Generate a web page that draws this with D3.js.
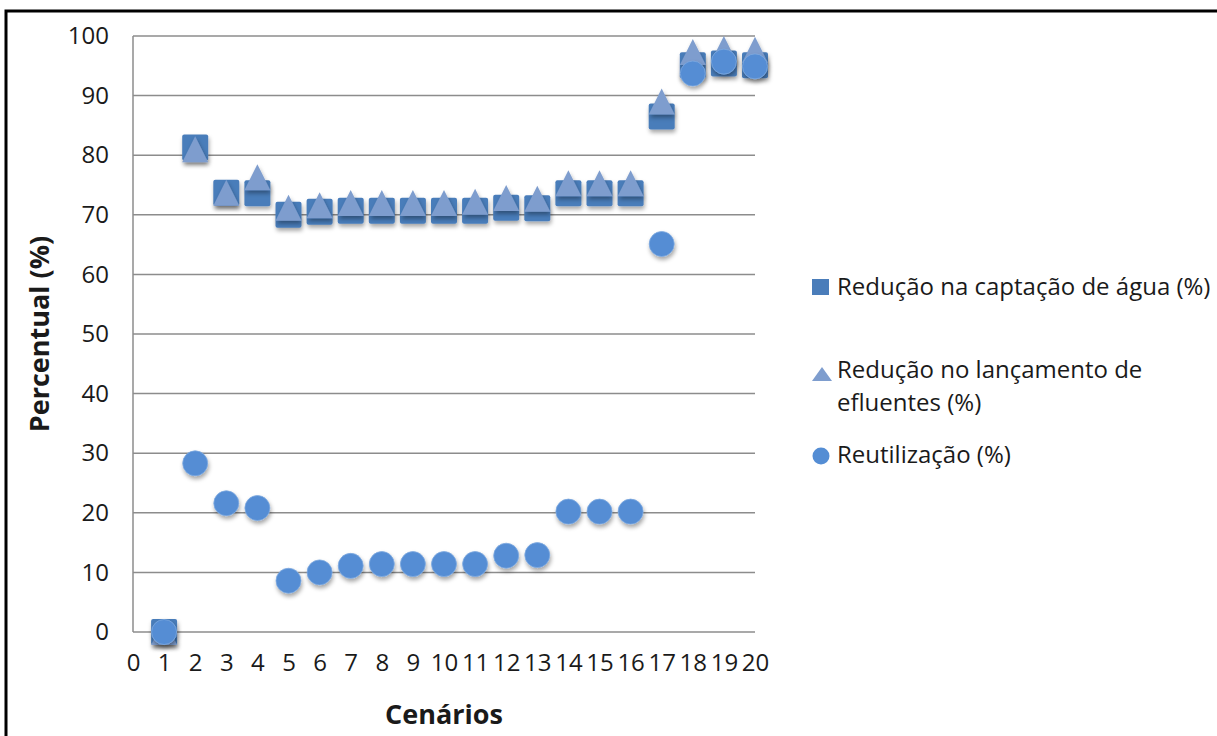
<!DOCTYPE html>
<html>
<head>
<meta charset="utf-8">
<script src="https://cdn.jsdelivr.net/npm/d3@7"></script>
<style>
  body { margin: 0; background: #fff; }
  text { font-family: "Open Sans", sans-serif; fill: #1a1a1a; }
</style>
</head>
<body>
<script>
// data
var cenarios = [1, 2, 3, 4, 5, 6, 7, 8, 9, 10, 11, 12, 13, 14, 15, 16, 17, 18, 19, 20];
var captacao = [0, 81.3, 73.7, 73.6, 70.0, 70.5, 70.7, 70.7, 70.7, 70.7, 70.7, 71.2, 71.1, 73.6, 73.6, 73.6, 86.5, 95.1, 95.4, 95.1];
var efluentes = [0, 81.0, 73.7, 76.3, 71.2, 71.6, 72.0, 72.0, 72.0, 72.0, 72.2, 72.8, 72.7, 75.3, 75.3, 75.3, 89.0, 97.3, 97.8, 97.7];
var reutilizacao = [0, 28.3, 21.6, 20.8, 8.6, 10.0, 11.1, 11.4, 11.4, 11.4, 11.4, 12.8, 12.9, 20.2, 20.2, 20.2, 65.1, 93.7, 95.7, 94.9];
var xTicks = d3.range(0, 21);
var yTicks = [0, 10, 20, 30, 40, 50, 60, 70, 80, 90, 100];
var legendLabels = [["Redução na captação de água (%)"], ["Redução no lançamento de", "efluentes (%)"], ["Reutilização (%)"]];

var w = 1217;
var h = 736;
var plot = { left: 133, right: 755, top: 36, bottom: 632 };
var colors = { square: "#4A7DBA", triangle: "#7E9DCE", circle: "#548DD4" };

var svg = d3.select("body")
  .append("svg")
  .attr("width", w)
  .attr("height", h);

// drop shadow for the markers
var defs = svg.append("defs");
var shadow = defs.append("filter")
  .attr("id", "shadow")
  .attr("x", "-50%").attr("y", "-50%")
  .attr("width", "200%").attr("height", "200%");
shadow.append("feDropShadow")
  .attr("dx", 1)
  .attr("dy", 3)
  .attr("stdDeviation", 2)
  .attr("flood-color", "#000")
  .attr("flood-opacity", 0.35);

// frame around the picture
svg.append("rect")
  .attr("x", 6)
  .attr("y", 11)
  .attr("width", w + 20)
  .attr("height", h + 20)
  .attr("fill", "none")
  .attr("stroke", "#000")
  .attr("stroke-width", 3);

var xScale = d3.scaleLinear().domain([0, 20]).range([plot.left, plot.right]);
var yScale = d3.scaleLinear().domain([0, 100]).range([plot.bottom, plot.top]);

// gridlines
svg.append("g")
  .selectAll("line")
  .data(yTicks)
  .enter()
  .append("line")
  .attr("x1", plot.left)
  .attr("x2", plot.right)
  .attr("y1", function(d) { return yScale(d); })
  .attr("y2", function(d) { return yScale(d); })
  .attr("stroke", "#8c8c8c")
  .attr("stroke-width", 1.5);

// y axis line
svg.append("line")
  .attr("x1", plot.left).attr("x2", plot.left)
  .attr("y1", plot.top).attr("y2", plot.bottom)
  .attr("stroke", "#8c8c8c")
  .attr("stroke-width", 1.5);

// y axis labels
var yAxis = d3.axisLeft(yScale).tickValues(yTicks).tickSize(0).tickPadding(24);
var gy = svg.append("g")
  .attr("transform", "translate(" + plot.left + ",0)")
  .call(yAxis);
gy.select(".domain").remove();
gy.selectAll("text").style("font-size", "24px").attr("fill", "#1a1a1a");

// x axis labels
var xAxis = d3.axisBottom(xScale).tickValues(xTicks).tickSize(0).tickPadding(22);
var gx = svg.append("g")
  .attr("transform", "translate(0," + plot.bottom + ")")
  .call(xAxis);
gx.select(".domain").remove();
gx.selectAll("text").style("font-size", "24px").attr("fill", "#1a1a1a");

// axis titles
svg.append("text")
  .attr("transform", "translate(49," + ((plot.top + plot.bottom) / 2 + 0) + ") rotate(-90)")
  .attr("text-anchor", "middle")
  .style("font-size", "27px")
  .style("font-weight", "bold")
  .text("Percentual (%)");

svg.append("text")
  .attr("x", 444)
  .attr("y", 724)
  .attr("text-anchor", "middle")
  .style("font-size", "27px")
  .style("font-weight", "bold")
  .text("Cenários");

var trianglePath = "M0,-13L13,13L-13,13Z";

// squares: captação
svg.append("g")
  .attr("filter", "url(#shadow)")
  .selectAll("rect")
  .data(cenarios)
  .enter()
  .append("rect")
  .attr("x", function(d, i) { return xScale(d) - 13; })
  .attr("y", function(d, i) { return yScale(captacao[i]) - 13; })
  .attr("width", 26)
  .attr("height", 26)
  .attr("rx", 2)
  .attr("fill", colors.square);

// triangles: efluentes
svg.append("g")
  .attr("filter", "url(#shadow)")
  .selectAll("path")
  .data(cenarios)
  .enter()
  .append("path")
  .attr("d", trianglePath)
  .attr("transform", function(d, i) {
    return "translate(" + xScale(d) + "," + yScale(efluentes[i]) + ")";
  })
  .attr("fill", colors.triangle);

// circles: reutilização
svg.append("g")
  .attr("filter", "url(#shadow)")
  .selectAll("circle")
  .data(cenarios)
  .enter()
  .append("circle")
  .attr("cx", function(d) { return xScale(d); })
  .attr("cy", function(d, i) { return yScale(reutilizacao[i]); })
  .attr("r", 12.5)
  .attr("fill", colors.circle)
  .attr("stroke", "#7fa9e0")
  .attr("stroke-width", 0.8);

// legend
var legendY = [287, 374, 456];
var lg = svg.append("g");
lg.append("rect")
  .attr("x", 812).attr("y", legendY[0] - 8)
  .attr("width", 17).attr("height", 16)
  .attr("fill", colors.square);
lg.append("path")
  .attr("d", "M0,-7L10,7L-10,7Z")
  .attr("transform", "translate(822," + legendY[1] + ")")
  .attr("fill", colors.triangle);
lg.append("circle")
  .attr("cx", 821).attr("cy", legendY[2])
  .attr("r", 8.5)
  .attr("fill", colors.circle);

var baselines = [[295], [378, 411], [463]];
legendLabels.forEach(function(lines, i) {
  lines.forEach(function(line, j) {
    lg.append("text")
      .attr("x", 837)
      .attr("y", baselines[i][j])
      .style("font-size", "24px")
      .text(line);
  });
});
</script>
</body>
</html>
